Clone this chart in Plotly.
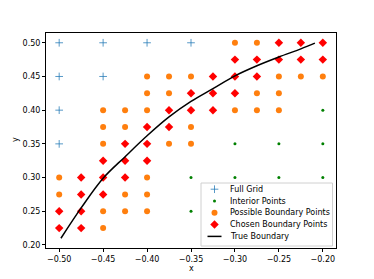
import plotly.graph_objects as go

# Full grid (visible unclassified coarse-grid points)
grid_x = [-0.5, -0.45, -0.4, -0.35, -0.5, -0.45, -0.5, -0.5]
grid_y = [0.5, 0.5, 0.5, 0.5, 0.45, 0.45, 0.4, 0.35]

# Interior points
int_x = [-0.35, -0.35, -0.3, -0.3, -0.3, -0.25, -0.25, -0.25, -0.2, -0.2, -0.2, -0.2]
int_y = [0.3, 0.25, 0.35, 0.3, 0.25, 0.35, 0.3, 0.25, 0.4, 0.35, 0.3, 0.25]

# Possible boundary points
pos_x = [-0.3, -0.275,
         -0.4, -0.375, -0.35, -0.25, -0.225, -0.2,
         -0.4, -0.375, -0.275, -0.25,
         -0.45, -0.425, -0.4, -0.3, -0.275, -0.25,
         -0.45, -0.425, -0.35,
         -0.45, -0.375, -0.35,
         -0.5, -0.4,
         -0.5, -0.425, -0.4,
         -0.45, -0.425, -0.4,
         -0.45]
pos_y = [0.5, 0.5,
         0.45, 0.45, 0.45, 0.45, 0.45, 0.45,
         0.425, 0.425, 0.425, 0.425,
         0.4, 0.4, 0.4, 0.4, 0.4, 0.4,
         0.375, 0.375, 0.375,
         0.35, 0.35, 0.35,
         0.3, 0.3,
         0.275, 0.275, 0.275,
         0.25, 0.25, 0.25,
         0.225]

# Chosen boundary points
cho_x = [-0.25, -0.225, -0.2,
         -0.3, -0.275, -0.25, -0.225, -0.2,
         -0.325, -0.3, -0.275,
         -0.35, -0.325, -0.3,
         -0.375, -0.35, -0.325,
         -0.4, -0.375,
         -0.425, -0.4,
         -0.45, -0.425, -0.4,
         -0.475, -0.45, -0.425,
         -0.475, -0.45,
         -0.5, -0.475,
         -0.5, -0.475]
cho_y = [0.5, 0.5, 0.5,
         0.475, 0.475, 0.475, 0.475, 0.475,
         0.45, 0.45, 0.45,
         0.425, 0.425, 0.425,
         0.4, 0.4, 0.4,
         0.375, 0.375,
         0.35, 0.35,
         0.325, 0.325, 0.325,
         0.3, 0.3, 0.3,
         0.275, 0.275,
         0.25, 0.25,
         0.225, 0.225]

# True boundary curve
tb_x = [-0.498, -0.475, -0.45, -0.425, -0.40, -0.375, -0.35, -0.325, -0.30, -0.275, -0.25, -0.225, -0.209]
tb_y = [0.210, 0.255, 0.299, 0.331, 0.362, 0.390, 0.413, 0.432, 0.451, 0.466, 0.479, 0.491, 0.4995]

x_ticks = [-0.5, -0.45, -0.4, -0.35, -0.3, -0.25, -0.2]
x_tick_labels = ["\u22120.50", "\u22120.45", "\u22120.40", "\u22120.35", "\u22120.30", "\u22120.25", "\u22120.20"]
y_ticks = [0.2, 0.25, 0.3, 0.35, 0.4, 0.45, 0.5]
y_tick_labels = ["0.20", "0.25", "0.30", "0.35", "0.40", "0.45", "0.50"]

legend_labels = ["Full Grid", "Interior Points", "Possible Boundary Points",
                 "Chosen Boundary Points", "True Boundary"]
x_title, y_title = "x", "y"

# ---- layout constants (pixels) ----
W, H = 374, 279
PL, PR, PT, PB = 46, 336, 33, 248
FONT = dict(family="DejaVu Sans", size=8, color="black")

STYLES = [
    dict(mode="markers", marker=dict(symbol="cross-thin", size=5.5, color="#1f77b4",
                                     line=dict(width=1, color="rgba(31,119,180,0.75)"))),
    dict(mode="markers", marker=dict(symbol="circle", size=3, color="#008000")),
    dict(mode="markers", marker=dict(symbol="circle", size=6, color="#ff7f0e")),
    dict(mode="markers", marker=dict(symbol="diamond", size=6.5, color="#ff0000")),
    dict(mode="lines", line=dict(color="black", width=1.5, shape="spline")),
]

fig = go.Figure()
series = [(grid_x, grid_y), (int_x, int_y), (pos_x, pos_y), (cho_x, cho_y), (tb_x, tb_y)]
for (sx, sy), name, st in zip(series, legend_labels, STYLES):
    fig.add_trace(go.Scatter(x=sx, y=sy, name=name, showlegend=False, **st))

# ---- custom legend in an overlay pixel-space axis (x2/y2) ----
def px(xp):
    return xp - PL

def py(yp):
    return PB - yp

box_l, box_r, box_t, box_b = 201, 332.5, 183, 246
fig.add_trace(go.Scatter(
    x=[px(box_l), px(box_r), px(box_r), px(box_l), px(box_l)],
    y=[py(box_t), py(box_t), py(box_b), py(box_b), py(box_t)],
    mode="lines", fill="toself", fillcolor="rgba(255,255,255,0.85)",
    line=dict(color="#d0d0d0", width=1), xaxis="x2", yaxis="y2",
    showlegend=False, hoverinfo="skip"))

row_y0, row_dy = 189.2, 11.8
sw_x, sw_l, sw_r, txt_x = 214.5, 207.5, 221.5, 227.5
for i, (name, st) in enumerate(zip(legend_labels, STYLES)):
    ry = row_y0 + i * row_dy
    if st["mode"] == "markers":
        fig.add_trace(go.Scatter(x=[px(sw_x)], y=[py(ry)], xaxis="x2", yaxis="y2",
                                 showlegend=False, hoverinfo="skip", **st))
    else:
        fig.add_trace(go.Scatter(x=[px(sw_l), px(sw_r)], y=[py(ry), py(ry)], mode="lines",
                                 line=dict(color="black", width=1.5), xaxis="x2", yaxis="y2",
                                 showlegend=False, hoverinfo="skip"))
    fig.add_annotation(x=px(txt_x), y=py(ry), xref="x2", yref="y2", text=name,
                       showarrow=False, xanchor="left", yanchor="middle", font=FONT)

# axis titles placed as annotations (pixel positions from the reference)
fig.add_annotation(x=(191.7 - PL) / (PR - PL), y=(PB - 268.3) / (PB - PT), xref="paper", yref="paper",
                   text=x_title, showarrow=False, xanchor="center", yanchor="middle", font=FONT)
fig.add_annotation(x=(15 - PL) / (PR - PL), y=(PB - 140) / (PB - PT), xref="paper", yref="paper",
                   text=y_title, showarrow=False, xanchor="center", yanchor="middle",
                   textangle=-90, font=FONT)

axis_common = dict(showgrid=False, zeroline=False, showline=True, linecolor="black",
                   linewidth=1, mirror=True, ticks="outside", ticklen=3, tickwidth=0.8,
                   tickcolor="black", tickfont=FONT, automargin=False)
fig.update_layout(
    xaxis=dict(range=[-0.515, -0.185], tickvals=x_ticks, ticktext=x_tick_labels, **axis_common),
    yaxis=dict(range=[0.1955, 0.5145], tickvals=y_ticks, ticktext=y_tick_labels, **axis_common),
    xaxis2=dict(overlaying="x", range=[0, PR - PL], visible=False, fixedrange=True,
                automargin=False),
    yaxis2=dict(overlaying="y", range=[0, PB - PT], visible=False, fixedrange=True,
                automargin=False),
    width=W, height=H, margin=dict(l=PL, r=W - PR, t=PT, b=H - PB),
    plot_bgcolor="white", paper_bgcolor="white", showlegend=False)
fig.write_html("out.html", config={"displayModeBar": False},
               post_script="document.body.style.margin='0';document.body.style.padding='0';")
